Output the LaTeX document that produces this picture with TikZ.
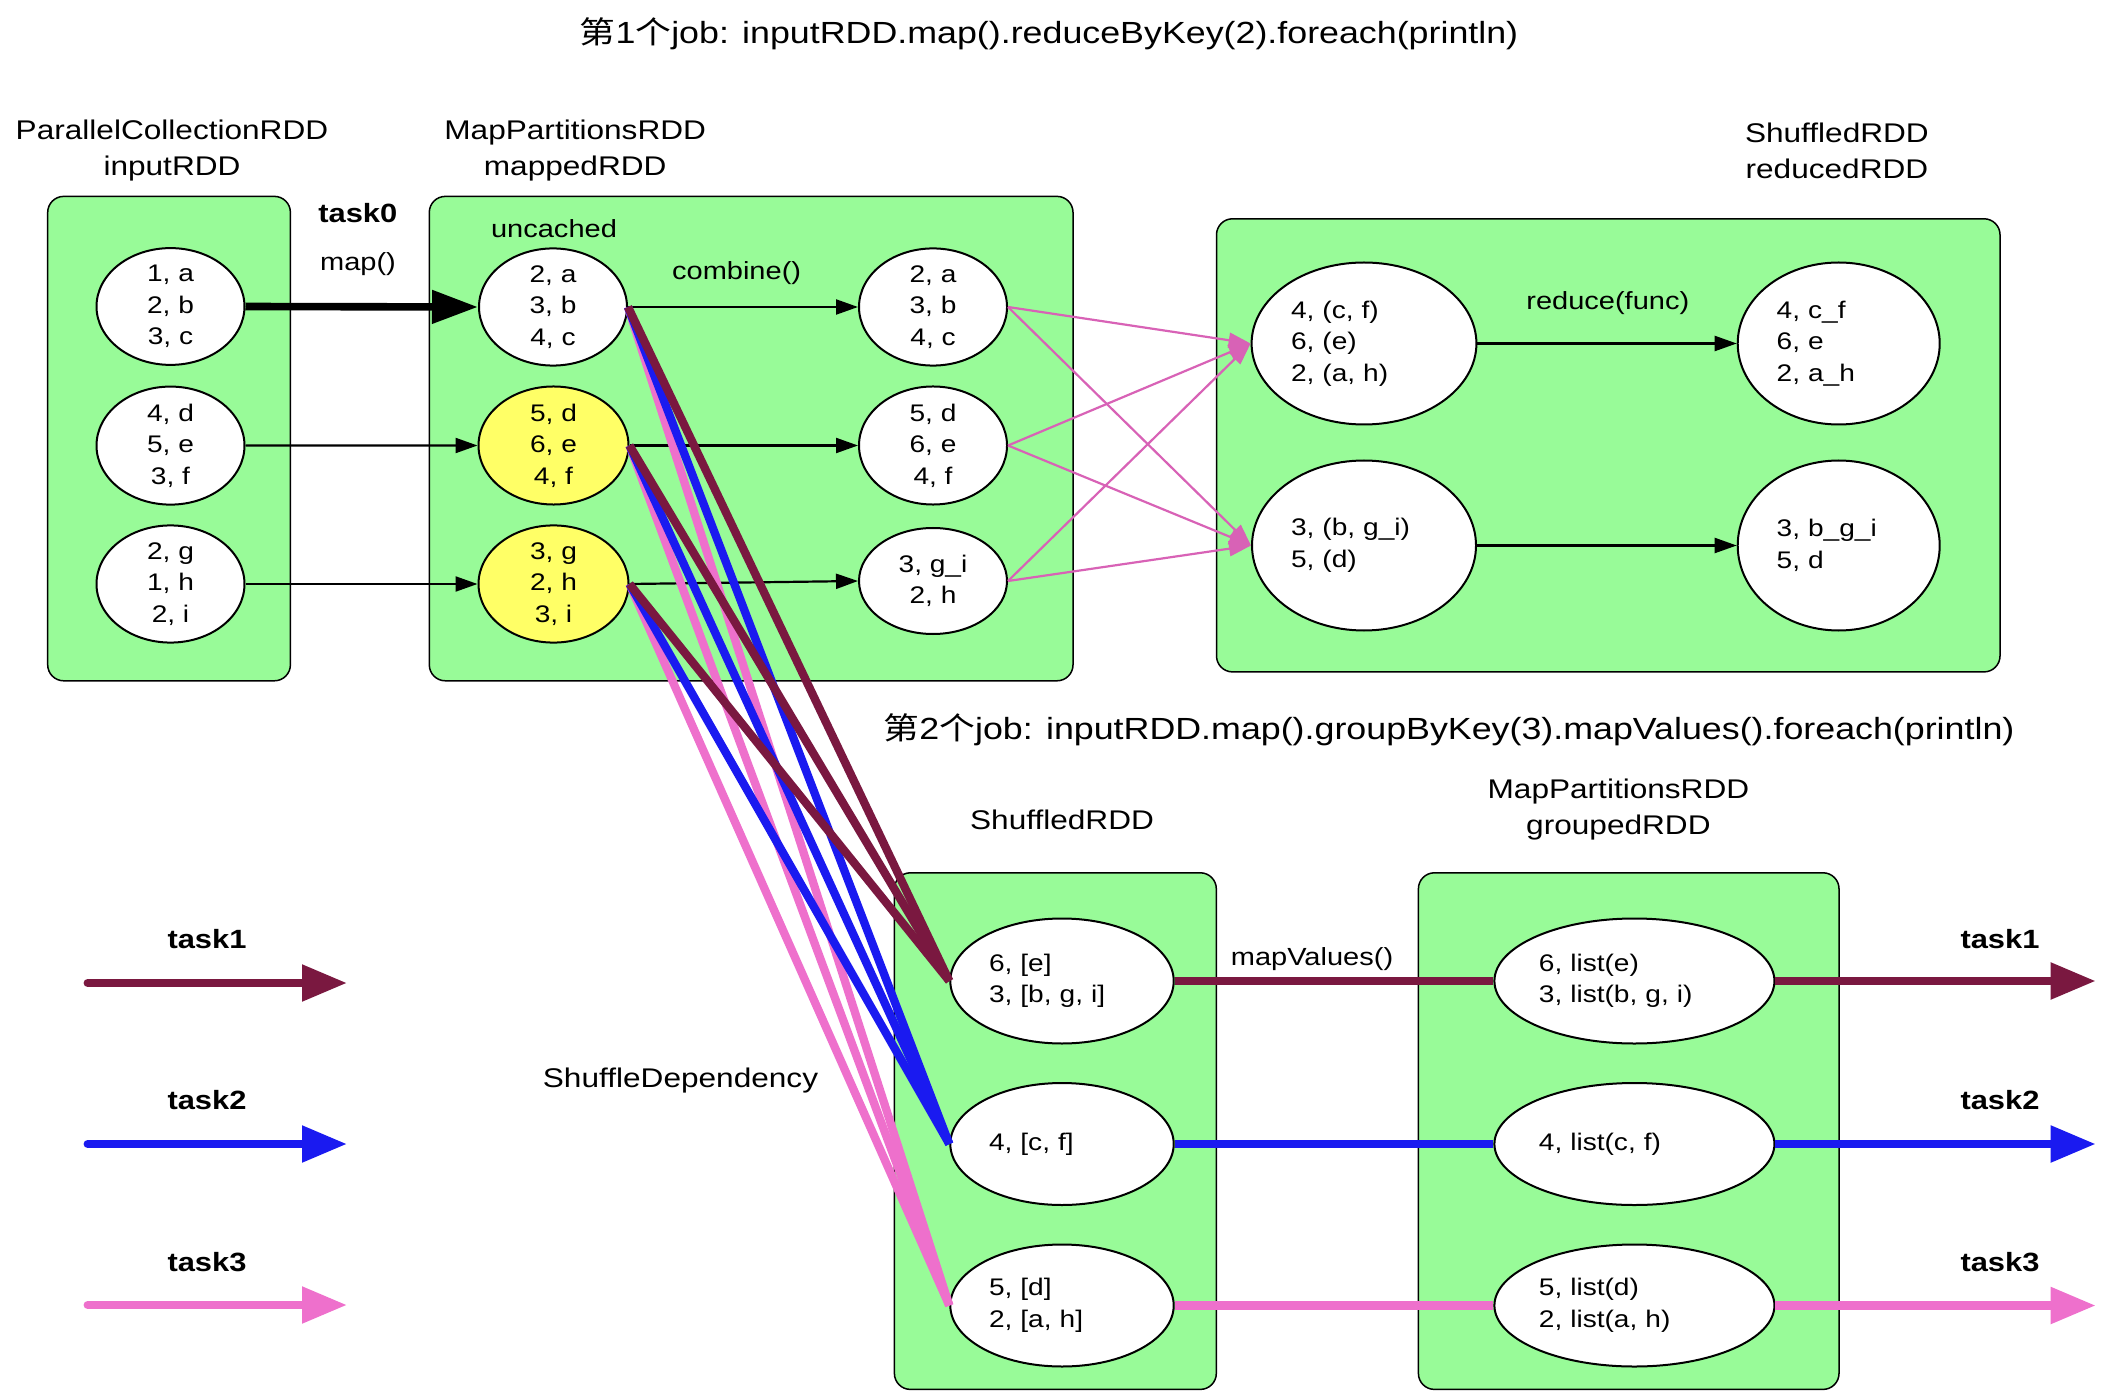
\documentclass[tikz,border=0pt]{standalone}
\usepackage{fontspec}
\setmainfont{Liberation Sans}[FakeStretch=1.17]
\newfontfamily\cjk{Noto Sans CJK SC}[FakeStretch=1.17]
\usetikzlibrary{arrows.meta,shapes.geometric}
\definecolor{grn}{HTML}{98FB98}
\definecolor{ylw}{HTML}{FFFF66}
\definecolor{mar}{HTML}{7A1840}
\definecolor{blu}{HTML}{1A1AF0}
\definecolor{pnk}{HTML}{EE70CC}
\definecolor{pnkthin}{HTML}{D862B6}
\begin{document}
\begin{tikzpicture}[x=0.5pt,y=-0.5pt,
  cluster/.style={draw=black, line width=0.75pt, fill=grn, rounded corners=8pt},
  ell/.style={ellipse, draw=black, line width=1pt, fill=white, inner sep=0pt,
    font=\fontsize{12}{15.75}\selectfont, align=center},
  lft/.style={align=left},
  lbl/.style={font=\fontsize{13.5}{18}\selectfont, align=center},
  elbl/.style={font=\fontsize{12.4}{15}\selectfont},
  ttl/.style={font=\fontsize{15.3}{18}\selectfont},
  tsk/.style={font=\bfseries\fontsize{13.2}{15}\selectfont},
  thinarr/.style={-{Triangle[length=11pt,width=7.5pt]}, line width=1.1pt},
  pinkarr/.style={pnkthin, -{Triangle[length=11pt,width=7.5pt]}, line width=1.1pt},
  fat/.style={line width=4.15pt},
  fatarr/.style={line width=4.15pt, -{Triangle[length=22.5pt,width=17.5pt]}},
]
\useasboundingbox (0,0) rectangle (2112,1400);

% titles and labels
\node[ttl] (t1) at (1049,33.5) {{\cjk 第}1{\cjk 个}job: inputRDD.map().reduceByKey(2).foreach(println)};
\node[ttl] (t2) at (1449,729.6) {{\cjk 第}2{\cjk 个}job: inputRDD.map().groupByKey(3).mapValues().foreach(println)};
\node[lbl] (lin) at (172,150.7) {ParallelCollectionRDD\\inputRDD};
\node[lbl] (lmap) at (575.2,150.7) {MapPartitionsRDD\\mappedRDD};
\node[lbl] (lred) at (1836.9,150.7) {ShuffledRDD\\reducedRDD};
\node[lbl] (lsh) at (1062,820) {ShuffledRDD};
\node[lbl] (lgrp) at (1618.4,809.7) {MapPartitionsRDD\\groupedRDD};

% clusters
\draw[cluster] (47.7,196.4) rectangle (290.4,680.8);
\draw[cluster] (429.3,196.4) rectangle (1073,680.8);
\draw[cluster] (1216.5,218.8) rectangle (2000,671.9);
\draw[cluster] (894.4,872.8) rectangle (1216.3,1389.4);
\draw[cluster] (1418.4,872.8) rectangle (1839,1389.4);

% nodes inputRDD
\node[ell, minimum width=74pt, minimum height=57.5pt] (in1) at (170.5,306.5) {1, a\\2, b\\3, c};
\node[ell, minimum width=74pt, minimum height=57.5pt] (in2) at (170.5,445.6) {4, d\\5, e\\3, f};
\node[ell, minimum width=74pt, minimum height=57.5pt] (in3) at (170.5,584) {2, g\\1, h\\2, i};
% mappedRDD
\node[ell, minimum width=74pt, minimum height=57.5pt] (m1) at (553,307) {2, a\\3, b\\4, c};
\node[ell, fill=ylw, minimum width=75pt, minimum height=58pt] (m2) at (553.5,445.5) {5, d\\6, e\\4, f};
\node[ell, fill=ylw, minimum width=75pt, minimum height=58pt] (m3) at (553.5,584) {3, g\\2, h\\3, i};
\node[ell, minimum width=74pt, minimum height=57.5pt] (c1) at (933,307) {2, a\\3, b\\4, c};
\node[ell, minimum width=74pt, minimum height=57.5pt] (c2) at (933,445.5) {5, d\\6, e\\4, f};
\node[ell, minimum width=74pt, minimum height=53pt] (c3) at (933,581) {3, g\_i\\2, h};
% reducedRDD
\node[ell, lft, text width=73pt, minimum width=112.4pt, minimum height=81pt] (r1) at (1364,343.5) {4, (c, f)\\6, (e)\\2, (a, h)};
\node[ell, lft, text width=73pt, minimum width=112pt, minimum height=85pt] (r2) at (1364,545.5) {3, (b, g\_i)\\5, (d)};
\node[ell, lft, text width=62pt, minimum width=101pt, minimum height=81pt] (f1) at (1838.7,343.5) {4, c\_f\\6, e\\2, a\_h};
\node[ell, lft, text width=62pt, minimum width=101pt, minimum height=85pt] (f2) at (1838.7,545.5) {3, b\_g\_i\\5, d};
% job 2
\node[ell, lft, text width=73pt, minimum width=111.7pt, minimum height=62.5pt] (s1) at (1062,981) {6, [e]\\3, [b, g, i]};
\node[ell, lft, text width=73pt, minimum width=111.7pt, minimum height=61pt] (s2) at (1062,1144) {4, [c, f]};
\node[ell, lft, text width=73pt, minimum width=111.7pt, minimum height=61pt] (s3) at (1062,1305.5) {5, [d]\\2, [a, h]};
\node[ell, lft, text width=95.5pt, minimum width=140pt, minimum height=62.5pt] (g1) at (1634.4,981) {6, list(e)\\3, list(b, g, i)};
\node[ell, lft, text width=95.5pt, minimum width=140pt, minimum height=61pt] (g2) at (1634.4,1144) {4, list(c, f)};
\node[ell, lft, text width=95.5pt, minimum width=140pt, minimum height=61pt] (g3) at (1634.4,1305.5) {5, list(d)\\2, list(a, h)};

% edge labels
\node[tsk] (t0) at (357.8,213.4) {task0};
\node[elbl] (mapl) at (358,264) {map()};
\node[elbl] (unc) at (554,228.6) {uncached};
\node[elbl] (comb) at (736.6,273.2) {combine()};
\node[elbl] (redf) at (1607.8,302.7) {reduce(func)};
\node[elbl] (mapv) at (1312,958.7) {mapValues()};
\node[lbl] (shdep) at (680.5,1080.4) {ShuffleDependency};

% job 1 edges
\draw[line width=3.8pt, -{Triangle[length=23pt,width=16pt]}] (in1.east) -- (m1.west);
\draw[thinarr] (in2.east) -- (m2.west);
\draw[thinarr] (in3.east) -- (m3.west);
\draw[thinarr] (m1.east) -- (c1.west);
\draw[thinarr] (m2.east) -- (c2.west);
\draw[thinarr] (m3.east) -- (c3.west);
\draw[thinarr] (r1.east) -- (f1.west);
\draw[thinarr] (r2.east) -- (f2.west);
\foreach \c in {c1,c2,c3}{
  \draw[pinkarr] (\c.east) -- (r1.west);
  \draw[pinkarr] (\c.east) -- (r2.west);
}

% shuffle dependency
\foreach \m in {m1,m2,m3}{
  \draw[fat, pnk] (\m.east) -- (s3.west);
  \draw[fat, blu] (\m.east) -- (s2.west);
  \draw[fat, mar] (\m.east) -- (s1.west);
}

% job 2 edges
\coordinate (o1) at (2095.7,981);
\coordinate (o2) at (2095.7,1144);
\coordinate (o3) at (2095.7,1305.5);
\draw[fat, mar] (s1.east) -- (g1.west);
\draw[fat, blu] (s2.east) -- (g2.west);
\draw[fat, pnk] (s3.east) -- (g3.west);
\draw[fatarr, mar] (g1.east) -- (o1);
\draw[fatarr, blu] (g2.east) -- (o2);
\draw[fatarr, pnk] (g3.east) -- (o3);
\node[tsk] (rt1) at (2000,939.4) {task1};
\node[tsk] (rt2) at (2000,1100) {task2};
\node[tsk] (rt3) at (2000,1262) {task3};

% legend
\coordinate (l1a) at (87.7,983);
\coordinate (l1b) at (347,983);
\coordinate (l2a) at (87.7,1144);
\coordinate (l2b) at (347,1144);
\coordinate (l3a) at (87.7,1305);
\coordinate (l3b) at (347,1305);
\draw[fatarr, mar, line cap=round] (l1a) -- (l1b);
\draw[fatarr, blu, line cap=round] (l2a) -- (l2b);
\draw[fatarr, pnk, line cap=round] (l3a) -- (l3b);
\node[tsk] (lt1) at (207,939.4) {task1};
\node[tsk] (lt2) at (207,1100) {task2};
\node[tsk] (lt3) at (207,1262) {task3};
\end{tikzpicture}
\end{document}
